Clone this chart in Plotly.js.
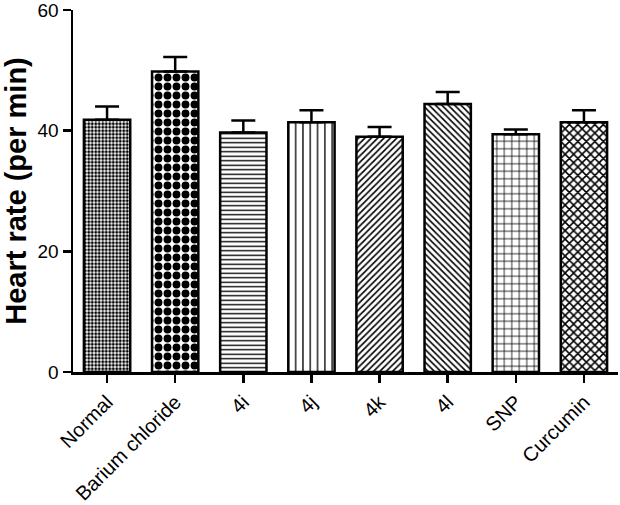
<!DOCTYPE html>
<html>
<head>
<meta charset="utf-8">
<script src="https://cdn.plot.ly/plotly-3.0.1.min.js"></script>
<style>html,body{margin:0;padding:0;background:#fff}#chart{width:620px;height:505px}</style>
</head>
<body>
<div id="chart"></div>
<script>
var categories = ["Normal", "Barium chloride", "4i", "4j", "4k", "4l", "SNP", "Curcumin"];
var heartRate = [41.8, 49.8, 39.7, 41.4, 39.0, 44.4, 39.4, 41.4];
var errorUp = [2.2, 2.4, 2.0, 2.0, 1.6, 2.0, 0.8, 2.0];
var patternShapes = [".", ".", "-", "|", "/", "\\", "+", "x"];
var patternSizes = [3.5, 9, 4.5, 7.3, 4.5, 4.5, 7.5, 6];
var patternSolidity = [0.55, 0.6, 0.3, 0.18, 0.35, 0.35, 0.2, 0.45];

var trace = {
  type: "bar",
  x: categories,
  y: heartRate,
  marker: {
    color: "#ffffff",
    line: {color: "#000000", width: 2.5},
    pattern: {
      shape: patternShapes,
      size: patternSizes,
      solidity: patternSolidity,
      fgcolor: "#000000",
      bgcolor: "#ffffff",
      fgopacity: 1,
      fillmode: "overlay"
    }
  },
  error_y: {
    type: "data",
    symmetric: false,
    array: errorUp,
    arrayminus: categories.map(function(){return 0;}),
    color: "#000000",
    thickness: 2.5,
    width: 12
  },
  hoverinfo: "skip"
};

var layout = {
  width: 620,
  height: 505,
  margin: {l: 73, r: 2, t: 10, b: 133},
  paper_bgcolor: "#ffffff",
  plot_bgcolor: "#ffffff",
  bargap: 0.32,
  showlegend: false,
  font: {family: "Liberation Sans, Arial, sans-serif", color: "#000000"},
  xaxis: {
    type: "category",
    range: [-0.5, 7.5],
    showline: true,
    linecolor: "#000000",
    linewidth: 2.5,
    ticks: "outside",
    ticklen: 8,
    tickwidth: 2.5,
    tickcolor: "#000000",
    tickangle: -45,
    tickfont: {size: 20, family: "Liberation Sans, Arial, sans-serif"},
    showgrid: false,
    zeroline: false
  },
  yaxis: {
    range: [0, 60],
    dtick: 20,
    tick0: 0,
    showline: true,
    linecolor: "#000000",
    linewidth: 2.5,
    ticks: "outside",
    ticklen: 8,
    tickwidth: 2.5,
    tickcolor: "#000000",
    ticklabeloverflow: "allow",
    tickfont: {size: 19, family: "Liberation Sans, Arial, sans-serif"},
    showgrid: false,
    zeroline: false,
    title: {text: "<b>Heart rate (per min)</b>", font: {size: 29, family: "Liberation Sans, Arial, sans-serif"}, standoff: 8}
  }
};

Plotly.newPlot("chart", [trace], layout, {displayModeBar: false, staticPlot: true});
</script>
</body>
</html>
